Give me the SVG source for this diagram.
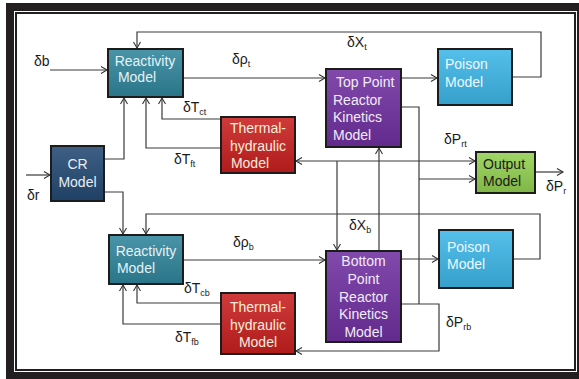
<svg xmlns="http://www.w3.org/2000/svg" width="579" height="379" viewBox="0 0 579 379">
<defs>
<marker id="ah" markerUnits="userSpaceOnUse" markerWidth="9" markerHeight="9" refX="7" refY="4" orient="auto-start-reverse" viewBox="0 0 9 8">
<path d="M1,0.5 L7,4 L1,7.5" fill="none" stroke="#333" stroke-width="1.1"/>
</marker>
<linearGradient id="sh" x1="0" y1="0" x2="0" y2="1">
<stop offset="0" stop-color="#fff" stop-opacity="0.12"/>
<stop offset="1" stop-color="#000" stop-opacity="0.12"/>
</linearGradient>
</defs>
<style>
.box{stroke:#1c1c1c;stroke-width:2}
.t{font-family:"Liberation Sans",Arial,sans-serif;font-size:14px}
.lbl{font-family:"Liberation Sans",Arial,sans-serif;font-size:14px;fill:#1a1a1a}
.sub{font-size:9px}
.c{fill:none;stroke:#3a3a3a;stroke-width:1.2}
</style>
<rect x="6" y="3" width="573" height="376" fill="#231f20"/>
<rect x="14" y="11" width="563" height="361" fill="#fff"/>
<rect x="16" y="13" width="559" height="357" fill="#fff" stroke="#231f20" stroke-width="2"/>

<g id="connectors">
<path class="c" d="M50,70 H107" marker-end="url(#ah)"/>
<path class="c" d="M512,77 H541 V32 H137 V48" marker-end="url(#ah)"/>
<path class="c" d="M183,78 H325" marker-end="url(#ah)"/>
<path class="c" d="M401,78 H437" marker-end="url(#ah)"/>
<path class="c" d="M104,159 H124 V98" marker-end="url(#ah)"/>
<path class="c" d="M221,119 H162 V98" marker-end="url(#ah)"/>
<path class="c" d="M221,148 H146 V98" marker-end="url(#ah)"/>
<path class="c" d="M26,175 H50" marker-end="url(#ah)"/>
<path class="c" d="M104,192 H123 V234" marker-end="url(#ah)"/>
<path class="c" d="M513,259 H540 V214 H146 V234" marker-end="url(#ah)"/>
<path class="c" d="M183,260 H325" marker-end="url(#ah)"/>
<path class="c" d="M401,259 H438" marker-end="url(#ah)"/>
<path class="c" d="M401,304 H439 V351 H296" marker-end="url(#ah)"/>
<path class="c" d="M221,303 H137 V285" marker-end="url(#ah)"/>
<path class="c" d="M221,324 H123 V285" marker-end="url(#ah)"/>
<path class="c" d="M296,161 H475" marker-start="url(#ah)" marker-end="url(#ah)"/>
<path class="c" d="M401,107 H419 V304"/>
<path class="c" d="M419,179 H475" marker-end="url(#ah)"/>
<path class="c" d="M337,161 V250" marker-end="url(#ah)"/>
<path class="c" d="M379,251 V148" marker-end="url(#ah)"/>
<path class="c" d="M535,172 H563" marker-end="url(#ah)"/>
</g>

<g id="labels">
<text class="lbl" x="34" y="66">δb</text>
<text class="lbl" x="27" y="200">δr</text>
<text class="lbl" x="232" y="64">δρ<tspan class="sub" dy="3">t</tspan></text>
<text class="lbl" x="347" y="47">δX<tspan class="sub" dy="3">t</tspan></text>
<text class="lbl" x="183" y="112">δT<tspan class="sub" dy="3">ct</tspan></text>
<text class="lbl" x="174" y="164">δT<tspan class="sub" dy="3">ft</tspan></text>
<text class="lbl" x="444" y="144">δP<tspan class="sub" dy="3">rt</tspan></text>
<text class="lbl" x="546" y="191">δP<tspan class="sub" dy="3">r</tspan></text>
<text class="lbl" x="349" y="230">δX<tspan class="sub" dy="3">b</tspan></text>
<text class="lbl" x="233" y="247">δρ<tspan class="sub" dy="3">b</tspan></text>
<text class="lbl" x="184" y="293">δT<tspan class="sub" dy="3">cb</tspan></text>
<text class="lbl" x="175" y="342">δT<tspan class="sub" dy="3">fb</tspan></text>
<text class="lbl" x="446" y="327">δP<tspan class="sub" dy="3">rb</tspan></text>
</g>

<g id="react-top">
<rect class="box" x="108" y="49" width="75" height="48" fill="#31859c"/>
<rect x="109" y="50" width="73" height="46" fill="url(#sh)"/>
<text class="t" fill="#e4f3f7" text-anchor="middle"><tspan x="145" y="66">Reactivity</tspan><tspan x="137" y="82">Model</tspan></text>
</g>

<g id="cr">
<rect class="box" x="51" y="146" width="53" height="55" fill="#244a73"/>
<rect x="52" y="147" width="51" height="53" fill="url(#sh)"/>
<text class="t" fill="#e8eef5" text-anchor="middle"><tspan x="77.5" y="169">CR</tspan><tspan x="77.5" y="187">Model</tspan></text>
</g>

<g id="thermal-top">
<rect class="box" x="221" y="117" width="74" height="56" fill="#c8201f"/>
<rect x="222" y="118" width="72" height="54" fill="url(#sh)"/>
<text class="t" fill="#fdeede" text-anchor="middle"><tspan x="258" y="133">Thermal-</tspan><tspan x="258" y="151">hydraulic</tspan><tspan x="250" y="168">Model</tspan></text>
</g>

<g id="prk-top">
<rect class="box" x="326" y="69" width="75" height="78" fill="#7030a0"/>
<rect x="327" y="70" width="73" height="76" fill="url(#sh)"/>
<text class="t" fill="#f2ecf7"><tspan x="336" y="87">Top Point</tspan><tspan x="333" y="105">Reactor</tspan><tspan x="333" y="122">Kinetics</tspan><tspan x="333" y="140">Model</tspan></text>
</g>

<g id="poison-top">
<rect class="box" x="438" y="49" width="74" height="56" fill="#3db6e7"/>
<rect x="439" y="50" width="72" height="54" fill="url(#sh)"/>
<text class="t" fill="#eef8fd"><tspan x="445" y="69">Poison</tspan><tspan x="445" y="87">Model</tspan></text>
</g>

<g id="output">
<rect class="box" x="476" y="152" width="59" height="41" fill="#92d050"/>
<rect x="477" y="153" width="57" height="39" fill="url(#sh)"/>
<text class="t" fill="#1a1a1a"><tspan x="483" y="169">Output</tspan><tspan x="483" y="186">Model</tspan></text>
</g>

<g id="react-bottom">
<rect class="box" x="109" y="235" width="74" height="49" fill="#31859c"/>
<rect x="110" y="236" width="72" height="47" fill="url(#sh)"/>
<text class="t" fill="#e4f3f7" text-anchor="middle"><tspan x="146" y="256">Reactivity</tspan><tspan x="136" y="273">Model</tspan></text>
</g>

<g id="thermal-bottom">
<rect class="box" x="221" y="293" width="74" height="61" fill="#c8201f"/>
<rect x="222" y="294" width="72" height="59" fill="url(#sh)"/>
<text class="t" fill="#fdeede" text-anchor="middle"><tspan x="258" y="312">Thermal-</tspan><tspan x="258" y="330">hydraulic</tspan><tspan x="258" y="347">Model</tspan></text>
</g>

<g id="prk-bottom">
<rect class="box" x="326" y="251" width="75" height="91" fill="#7030a0"/>
<rect x="327" y="252" width="73" height="89" fill="url(#sh)"/>
<text class="t" fill="#f2ecf7" text-anchor="middle"><tspan x="363.5" y="266">Bottom</tspan><tspan x="363.5" y="284">Point</tspan><tspan x="363.5" y="302">Reactor</tspan><tspan x="363.5" y="319">Kinetics</tspan><tspan x="363.5" y="337">Model</tspan></text>
</g>

<g id="poison-bottom">
<rect class="box" x="439" y="230" width="74" height="58" fill="#3db6e7"/>
<rect x="440" y="231" width="72" height="56" fill="url(#sh)"/>
<text class="t" fill="#eef8fd"><tspan x="447" y="252">Poison</tspan><tspan x="447" y="269">Model</tspan></text>
</g>
</svg>
